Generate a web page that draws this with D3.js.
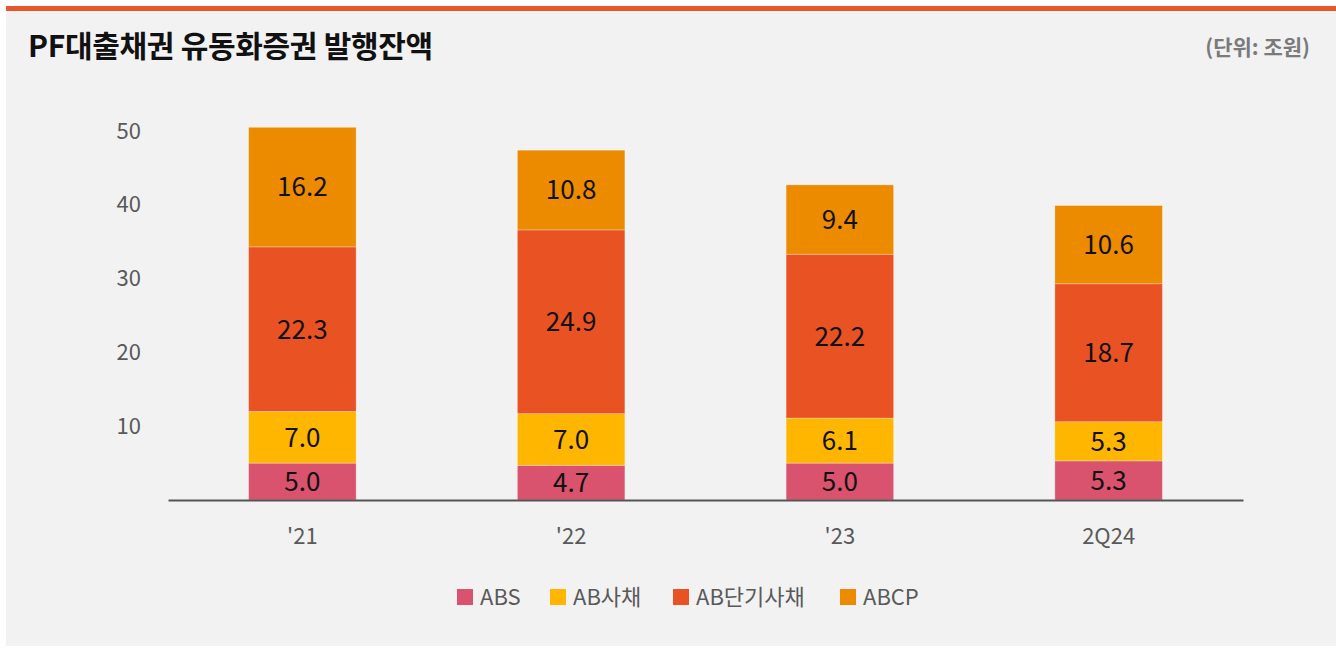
<!DOCTYPE html>
<html>
<head>
<meta charset="utf-8">
<script src="https://cdn.jsdelivr.net/npm/d3@7"></script>
<style>
  body { margin: 0; background: #fff; font-family: "Noto Sans CJK KR", "Noto Sans", sans-serif; }
</style>
</head>
<body>
<div id="chart"></div>
<script>
// data (조원)
let periods = ["'21", "'22", "'23", "2Q24"];
let seriesNames = ["ABS", "AB사채", "AB단기사채", "ABCP"];
let absValues = [5.0, 4.7, 5.0, 5.3];
let abBondValues = [7.0, 7.0, 6.1, 5.3];
let abstbValues = [22.3, 24.9, 22.2, 18.7];
let abcpValues = [16.2, 10.8, 9.4, 10.6];
let yTicks = [10, 20, 30, 40, 50];

let colors = ['#d9536e', '#ffb600', '#e95324', '#ec8b00'];

let width = 1336;
let height = 652;

let svg = d3.select('#chart')
    .append('svg')
    .attr('width', width)
    .attr('height', height);

// panel + top rule
svg.append('rect')
    .attr('x', 6).attr('y', 6)
    .attr('width', width - 6).attr('height', 640)
    .style('fill', '#f2f2f2');
svg.append('rect')
    .attr('x', 6).attr('y', 6)
    .attr('width', width - 6).attr('height', 5)
    .style('fill', '#e9562a');

svg.append('text')
    .text('PF대출채권 유동화증권 발행잔액')
    .attr('x', 28)
    .attr('y', 57)
    .style('font-size', '30px')
    .style('font-weight', 'bold')
    .style('letter-spacing', '-0.3px')
    .style('fill', '#111');

svg.append('text')
    .text('(단위: 조원)')
    .attr('x', 1310)
    .attr('y', 55)
    .attr('text-anchor', 'end')
    .style('font-size', '21px')
    .style('font-weight', 'bold')
    .style('fill', '#7a7a7a');

// build the stacked table
let table = periods.map((p, i) => ({
    period: p,
    'ABS': absValues[i],
    'AB사채': abBondValues[i],
    'AB단기사채': abstbValues[i],
    'ABCP': abcpValues[i]
}));
let stacked = d3.stack().keys(seriesNames)(table);

let x = d3.scaleBand()
    .domain(periods)
    .range([168, 1243])
    .paddingInner(0.6)
    .paddingOuter(0.3);

let y = d3.scaleLinear()
    .domain([0, 50])
    .range([500, 131]);

// y labels
svg.append('g')
    .attr('transform', 'translate(141,0)')
    .call(d3.axisLeft(y).tickValues(yTicks).tickSize(0).tickPadding(0))
    .call(g => g.select('.domain').remove())
    .selectAll('text')
    .style('font-family', '"Noto Sans CJK KR", sans-serif')
    .style('font-size', '22px')
    .style('fill', '#595959');

// bars
let layer = svg.selectAll('.layer')
    .data(stacked)
    .enter()
    .append('g')
    .attr('class', 'layer')
    .style('fill', (d, i) => colors[i]);

layer.selectAll('rect')
    .data(d => d)
    .enter()
    .append('rect')
    .attr('x', d => x(d.data.period))
    .attr('y', d => y(d[1]))
    .attr('width', x.bandwidth())
    .attr('height', d => y(d[0]) - y(d[1]))
    .style('stroke', '#ffffff')
    .style('stroke-opacity', 0.35)
    .style('stroke-width', 0.8);

layer.selectAll('text')
    .data(d => d)
    .enter()
    .append('text')
    .text(d => (d[1] - d[0]).toFixed(1))
    .attr('x', d => x(d.data.period) + x.bandwidth() / 2)
    .attr('y', d => (y(d[0]) + y(d[1])) / 2)
    .attr('dy', '0.36em')
    .attr('text-anchor', 'middle')
    .style('font-size', '26px')
    .style('fill', '#111');

// baseline + x labels
svg.append('g')
    .attr('transform', `translate(0,${y(0)})`)
    .call(d3.axisBottom(x).tickSize(0).tickPadding(28))
    .call(g => g.select('.domain')
        .attr('stroke', '#555')
        .attr('stroke-width', 2))
    .selectAll('text')
    .style('font-family', '"Noto Sans CJK KR", sans-serif')
    .style('font-size', '22px')
    .style('fill', '#595959');

// legend
let legendX = [457, 550, 673, 840];
let legend = svg.selectAll('.legend')
    .data(seriesNames)
    .enter()
    .append('g')
    .attr('class', 'legend')
    .attr('transform', (d, i) => `translate(${legendX[i]},589)`);

legend.append('rect')
    .attr('width', 16)
    .attr('height', 16)
    .style('fill', (d, i) => colors[i]);

legend.append('text')
    .text(d => d)
    .attr('x', 23)
    .attr('y', 8)
    .attr('dy', '0.36em')
    .style('font-size', '22px')
    .style('fill', '#595959');
</script>
</body>
</html>
